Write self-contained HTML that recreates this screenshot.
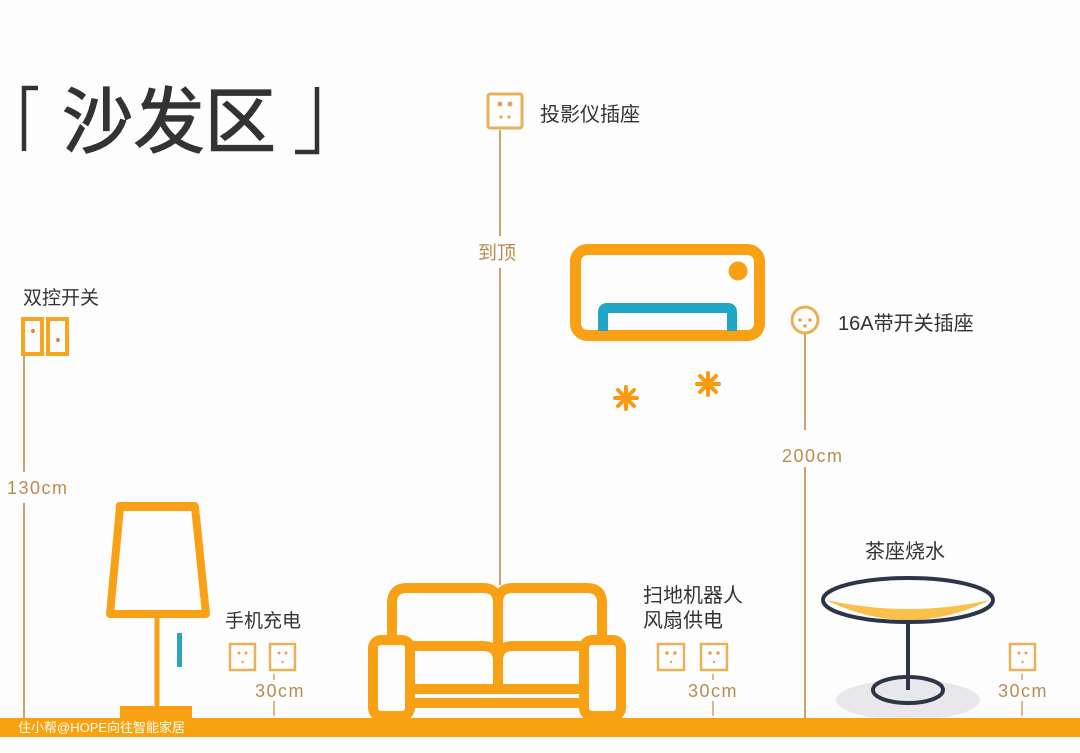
<!DOCTYPE html>
<html><head><meta charset="utf-8"><style>
html,body{margin:0;padding:0;background:#fdfdfe;}
svg{display:block}
text{font-family:"Liberation Sans","Noto Sans CJK SC",sans-serif;}
</style></head><body>
<svg width="1080" height="753" viewBox="0 0 1080 753" xmlns="http://www.w3.org/2000/svg">
<rect width="1080" height="753" fill="#fdfdfe"/>
<!-- title -->
<path d="M38 88 H24 V151" fill="none" stroke="#333" stroke-width="4.5"/>
<path d="M295 152 H317 V87" fill="none" stroke="#333" stroke-width="4.5"/>
<text x="62" y="147" font-size="72" fill="#333" stroke="#333" stroke-width="1.2" textLength="214" lengthAdjust="spacingAndGlyphs">沙发区</text>

<!-- 双控开关 -->
<text x="23" y="304" font-size="19" fill="#333">双控开关</text>
<rect x="23" y="319" width="19" height="35" fill="none" stroke="#F7A51D" stroke-width="4"/>
<rect x="48" y="319" width="19" height="35" fill="none" stroke="#F7A51D" stroke-width="4"/>
<circle cx="33" cy="331" r="2" fill="#E0883A"/><circle cx="58" cy="340" r="2" fill="#E0883A"/>
<line x1="24" y1="356" x2="24" y2="472" stroke="#C9A56A" stroke-width="2"/>
<line x1="24" y1="503" x2="24" y2="718" stroke="#C9A56A" stroke-width="2"/>

<g font-size="18" fill="#B98C4E" letter-spacing="1.5">
<text x="7" y="494">130cm</text>
<text x="782" y="462">200cm</text>
<text x="255" y="697">30cm</text><text x="688" y="697">30cm</text><text x="998" y="697">30cm</text>
</g>

<!-- lamp -->
<path d="M120 507 L195 507 L206 614 L110 614 Z" fill="none" stroke="#F9A114" stroke-width="8" stroke-linejoin="round"/>
<rect x="116" y="502" width="82" height="9" rx="3" fill="#F9A114"/>
<line x1="157" y1="618" x2="157" y2="708" stroke="#F9A114" stroke-width="5"/>
<rect x="120" y="706" width="72" height="13" fill="#F9A114"/>
<rect x="177" y="633" width="5" height="34" fill="#2AA6C4"/>

<!-- 手机充电 -->
<text x="225" y="627" font-size="19" fill="#333">手机充电</text>
<g fill="none" stroke="#E7B257" stroke-width="2.5">
<rect x="230" y="644" width="25" height="26"/><rect x="270" y="644" width="25" height="26"/>
<rect x="658" y="644" width="26" height="26"/><rect x="701" y="644" width="26" height="26"/>
<rect x="1010" y="644" width="25" height="26"/>
<rect x="488" y="94" width="34" height="34" rx="2" stroke-width="3"/>
</g>
<g fill="#E7A060">
<circle cx="239" cy="653" r="1.5"/><circle cx="246" cy="653" r="1.5"/><circle cx="242.5" cy="662" r="1.2"/>
<circle cx="279" cy="653" r="1.5"/><circle cx="286" cy="653" r="1.5"/><circle cx="282.5" cy="662" r="1.2"/>
<circle cx="667" cy="653" r="1.8"/><circle cx="675" cy="653" r="1.8"/><circle cx="671" cy="662" r="1.2"/>
<circle cx="710" cy="653" r="1.8"/><circle cx="718" cy="653" r="1.8"/><circle cx="714" cy="662" r="1.2"/>
<circle cx="1019" cy="653" r="1.5"/><circle cx="1026" cy="653" r="1.5"/><circle cx="1022.5" cy="662" r="1.2"/>
<circle cx="500" cy="104" r="2.5"/><circle cx="510" cy="104" r="2.5"/><circle cx="501" cy="117" r="1.6"/><circle cx="509" cy="117" r="1.6"/>
</g>
<g stroke="#C9A56A" stroke-width="1.5">
<line x1="274" y1="674" x2="274" y2="680"/><line x1="274" y1="701" x2="274" y2="716"/>
<line x1="713" y1="674" x2="713" y2="680"/><line x1="713" y1="701" x2="713" y2="716"/>
<line x1="1022" y1="674" x2="1022" y2="680"/><line x1="1022" y1="701" x2="1022" y2="716"/>
</g>

<!-- projector -->
<text x="540" y="121" font-size="20" fill="#333">投影仪插座</text>
<line x1="500" y1="130" x2="500" y2="236" stroke="#C9A56A" stroke-width="2"/>
<line x1="500" y1="268" x2="500" y2="585" stroke="#C9A56A" stroke-width="2"/>
<text x="478" y="259" font-size="19" fill="#B98C4E">到顶</text>

<!-- sofa -->
<g fill="none" stroke="#F9A114" stroke-width="10" stroke-linejoin="round">
<path d="M392 640 V603 Q392 588 407 588 H483 Q498 588 498 603 Q498 588 513 588 H587 Q602 588 602 603 V640"/>
<line x1="498" y1="603" x2="498" y2="690"/>
<rect x="373" y="640" width="37" height="76" rx="8"/>
<rect x="584" y="640" width="37" height="76" rx="8"/>
<path d="M410 646 H483 Q498 646 498 661 Q498 646 513 646 H584"/>
<line x1="410" y1="689" x2="584" y2="689"/>
<line x1="410" y1="703" x2="584" y2="703"/>
</g>

<!-- AC -->
<rect x="575.5" y="249.5" width="184" height="86" rx="12" fill="none" stroke="#F9A114" stroke-width="11"/>
<circle cx="738" cy="271" r="9.5" fill="#F9A114"/>
<path d="M603 331 V312 Q603 308 607 308 H728 Q732 308 732 312 V331" fill="none" stroke="#22A6C5" stroke-width="10"/>
<g stroke="#F99A10" stroke-width="4" stroke-linecap="round">
<g transform="translate(626,398)"><line x1="-11" y1="0" x2="11" y2="0"/><line x1="0" y1="-11" x2="0" y2="11"/><line x1="-8" y1="-8" x2="8" y2="8"/><line x1="-8" y1="8" x2="8" y2="-8"/></g>
<g transform="translate(708,384)"><line x1="-11" y1="0" x2="11" y2="0"/><line x1="0" y1="-11" x2="0" y2="11"/><line x1="-8" y1="-8" x2="8" y2="8"/><line x1="-8" y1="8" x2="8" y2="-8"/></g>
</g>

<!-- 16A -->
<circle cx="805" cy="320" r="13" fill="none" stroke="#E7B257" stroke-width="3"/>
<g fill="#E7A060"><circle cx="800" cy="320" r="1.8"/><circle cx="810" cy="320" r="1.8"/><circle cx="805" cy="326" r="1.8"/></g>
<text x="838" y="330" font-size="20" fill="#333">16A带开关插座</text>
<line x1="805" y1="334" x2="805" y2="430" stroke="#C9A56A" stroke-width="2"/>
<line x1="805" y1="467" x2="805" y2="718" stroke="#C9A56A" stroke-width="2"/>

<!-- 扫地 -->
<text x="643" y="602" font-size="20" fill="#333">扫地机器人</text>
<text x="643" y="627" font-size="20" fill="#333">风扇供电</text>

<!-- table -->
<text x="865" y="558" font-size="20" fill="#333">茶座烧水</text>
<ellipse cx="908" cy="700" rx="72" ry="20" fill="#e8e8ec"/>
<path d="M826 600 Q908 640 990 600 Q908 618 826 600 Z" fill="#F9C04A"/>
<ellipse cx="908" cy="600" rx="85" ry="22" fill="none" stroke="#2e3548" stroke-width="4"/>
<line x1="908" y1="622" x2="908" y2="690" stroke="#2e3548" stroke-width="4"/>
<ellipse cx="908" cy="690" rx="35" ry="13" fill="none" stroke="#2e3548" stroke-width="4"/>

<!-- floor -->
<rect x="0" y="718" width="1080" height="19" fill="#F9A20F"/>
<text x="18" y="732" font-size="13" fill="#fff">住小帮@HOPE向往智能家居</text>
</svg>
</body></html>
